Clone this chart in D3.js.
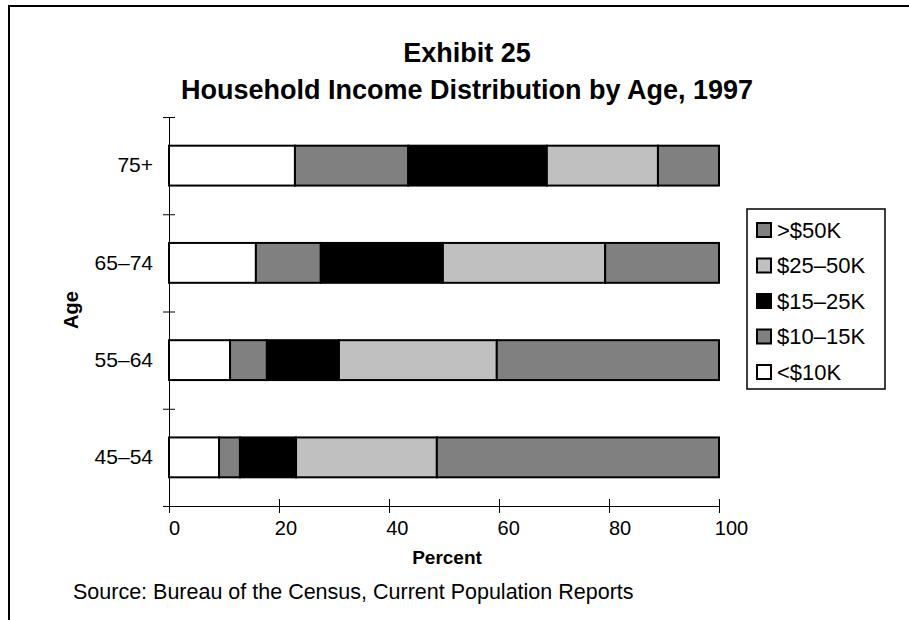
<!DOCTYPE html>
<html>
<head>
<meta charset="utf-8">
<script src="https://cdn.jsdelivr.net/npm/d3@7"></script>
<style>
  body { margin: 0; background: #fff; }
  svg { display: block; font-family: "Liberation Sans", Arial, sans-serif; }
</style>
</head>
<body>
<svg width="909" height="620"></svg>
<script>
// chart data (percent of households)
const ages = ["75+", "65\u201374", "55\u201364", "45\u201354"];
const keys = ["lt10", "k10_15", "k15_25", "k25_50", "gt50"];
const legendNames = ["<$10K", "$10\u201315K", "$15\u201325K", "$25\u201350K", ">$50K"];
const lt10 = [22.9, 15.8, 11.1, 9.1];
const k10_15 = [20.6, 11.8, 6.7, 3.8];
const k15_25 = [25.2, 22.2, 13.1, 10.2];
const k25_50 = [20.2, 29.5, 28.7, 25.6];
const gt50 = [11.1, 20.7, 40.4, 51.3];
const xTicks = [0, 20, 40, 60, 80, 100];

const fills = ["#ffffff", "#808080", "#000000", "#c0c0c0", "#808080"];

const rows = ages.map((a, i) => ({
  age: a,
  lt10: lt10[i],
  k10_15: k10_15[i],
  k15_25: k15_25[i],
  k25_50: k25_50[i],
  gt50: gt50[i],
}));

const svg = d3.select("svg");

// outer frame (runs off the right and bottom of the page)
svg.append("path")
  .attr("d", "M9,625V6H915")
  .attr("fill", "none")
  .attr("stroke", "#000")
  .attr("stroke-width", 2);

// title
svg.append("text")
  .attr("x", 467).attr("y", 62)
  .attr("text-anchor", "middle")
  .attr("font-weight", "bold").attr("font-size", "27px")
  .text("Exhibit 25");
svg.append("text")
  .attr("x", 467).attr("y", 99)
  .attr("text-anchor", "middle")
  .attr("font-weight", "bold").attr("font-size", "27px")
  .text("Household Income Distribution by Age, 1997");

const plotLeft = 169, plotRight = 719, plotTop = 117, plotBottom = 506;

const x = d3.scaleLinear().domain([0, 100]).range([plotLeft, plotRight]);
// the printed tick labels drift a little to the right of their ticks
const xLabel = d3.scaleLinear().domain([0, 100]).range([plotLeft + 5, plotRight + 12]);
const y = d3.scaleBand().domain(ages).range([plotTop, plotBottom]).paddingInner(0.59).paddingOuter(0.295);
const yEdge = d3.scaleLinear().domain([0, ages.length]).range([plotBottom, plotTop]);

// stacked bars
const stack = d3.stack().keys(keys)(rows);
svg.append("g")
  .selectAll("g")
  .data(stack)
  .enter()
  .append("g")
  .attr("fill", (d, i) => fills[i])
  .selectAll("rect")
  .data((d) => d)
  .enter()
  .append("rect")
  .attr("x", (d) => x(d[0]))
  .attr("y", (d) => y(d.data.age))
  .attr("width", (d) => x(d[1]) - x(d[0]))
  .attr("height", y.bandwidth())
  .attr("stroke", "#000")
  .attr("stroke-width", 2);

// y axis: crossing ticks between the bars
const yAxis = svg.append("g")
  .attr("transform", `translate(${plotLeft},0)`)
  .call(d3.axisLeft(yEdge).ticks(ages.length).tickFormat("").tickSizeOuter(0));
yAxis.selectAll(".tick line").attr("x1", 6).attr("x2", -6);
yAxis.selectAll("path, line").attr("stroke", "#000");

const yLabels = svg.append("g")
  .attr("transform", `translate(${plotLeft - 13},0)`)
  .call(d3.axisLeft(y).tickSize(0));
yLabels.select(".domain").remove();
yLabels.selectAll("text")
  .attr("font-family", "Liberation Sans, Arial, sans-serif")
  .attr("font-size", "21px")
  .attr("fill", "#000");

// x axis
const xAxis = svg.append("g")
  .attr("transform", `translate(0,${plotBottom})`)
  .call(d3.axisBottom(x).tickValues(xTicks).tickSizeOuter(0));
xAxis.selectAll(".tick line").attr("y1", -7).attr("y2", 7);
xAxis.selectAll("path, line").attr("stroke", "#000");
xAxis.selectAll("text")
  .attr("font-family", "Liberation Sans, Arial, sans-serif")
  .attr("font-size", "20px")
  .attr("fill", "#000")
  .attr("dx", (d) => xLabel(d) - x(d))
  .attr("y", 15)
  .attr("dy", "0.71em");

// axis titles
svg.append("text")
  .attr("x", (plotLeft + plotRight) / 2 + 3).attr("y", 564)
  .attr("text-anchor", "middle")
  .attr("font-weight", "bold").attr("font-size", "19px")
  .text("Percent");
svg.append("text")
  .attr("transform", "translate(78,310) rotate(-90)")
  .attr("text-anchor", "middle")
  .attr("font-weight", "bold").attr("font-size", "20px")
  .text("Age");

svg.append("text")
  .attr("x", 73).attr("y", 599)
  .attr("font-size", "21.5px")
  .text("Source: Bureau of the Census, Current Population Reports");

// legend, highest bracket on top
const legend = svg.append("g").attr("transform", "translate(747,209)");
legend.append("rect")
  .attr("width", 138).attr("height", 180)
  .attr("fill", "#fff").attr("stroke", "#000").attr("stroke-width", 1.5);
const item = legend.selectAll("g.item")
  .data(d3.range(keys.length).reverse())
  .enter()
  .append("g")
  .attr("class", "item")
  .attr("transform", (d, i) => `translate(10,${21 + i * 35.5})`);
item.append("rect")
  .attr("x", 0).attr("y", -7)
  .attr("width", 14).attr("height", 14)
  .attr("fill", (d) => fills[d])
  .attr("stroke", "#000").attr("stroke-width", 2);
item.append("text")
  .attr("x", 20).attr("dy", "0.36em")
  .attr("font-size", "22px")
  .text((d) => legendNames[d]);
</script>
</body>
</html>
